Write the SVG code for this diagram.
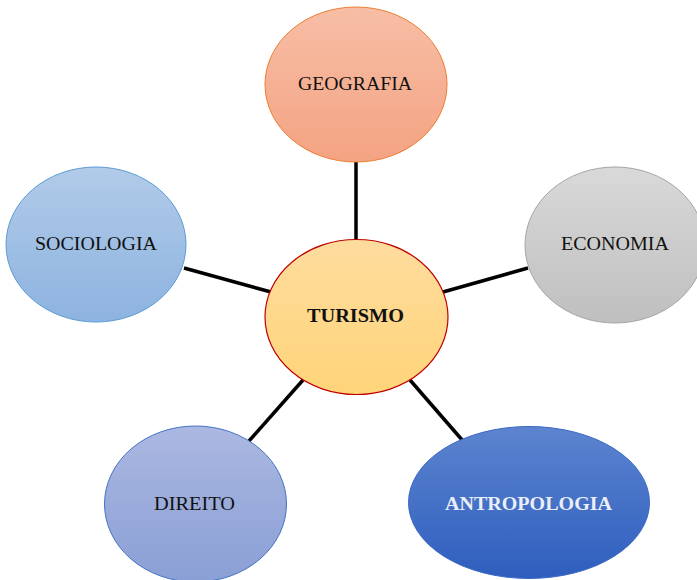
<svg xmlns="http://www.w3.org/2000/svg" width="697" height="580" viewBox="0 0 697 580">
<defs>
<linearGradient id="gGeo" x1="0" y1="0" x2="0" y2="1"><stop offset="0" stop-color="#f7bea6"/><stop offset="1" stop-color="#f4a382"/></linearGradient>
<linearGradient id="gSoc" x1="0" y1="0" x2="0" y2="1"><stop offset="0" stop-color="#b1cbe9"/><stop offset="1" stop-color="#8db3df"/></linearGradient>
<linearGradient id="gEco" x1="0" y1="0" x2="0" y2="1"><stop offset="0" stop-color="#d9d9d9"/><stop offset="1" stop-color="#bfbfbf"/></linearGradient>
<linearGradient id="gTur" x1="0" y1="0" x2="0" y2="1"><stop offset="0" stop-color="#fedc9e"/><stop offset="1" stop-color="#ffd479"/></linearGradient>
<linearGradient id="gDir" x1="0" y1="0" x2="0" y2="1"><stop offset="0" stop-color="#abb8e1"/><stop offset="1" stop-color="#8a9fd5"/></linearGradient>
<linearGradient id="gAnt" x1="0" y1="0" x2="0" y2="1"><stop offset="0" stop-color="#5c84cf"/><stop offset="1" stop-color="#2e5ebe"/></linearGradient>
</defs>
<style>
.lbl{font-family:"Liberation Serif","Times New Roman",serif;font-size:19px;fill:#111;text-anchor:middle}
.b{font-weight:bold}
.conn line{stroke:#000;stroke-width:3.5}
</style>
<g id="connectors" class="conn">
<line x1="356" y1="162" x2="356" y2="240"/>
<line x1="184" y1="268" x2="271" y2="292"/>
<line x1="443" y1="292" x2="528" y2="268"/>
<line x1="249" y1="441" x2="303" y2="380"/>
<line x1="410" y1="380" x2="463" y2="441"/>
</g>
<g id="geografia"><ellipse cx="356" cy="84.5" rx="91" ry="77.5" fill="url(#gGeo)" stroke="#ed7d31" stroke-width="1"/><text class="lbl" x="355" y="90" textLength="114" lengthAdjust="spacingAndGlyphs">GEOGRAFIA</text></g>
<g id="sociologia"><ellipse cx="96" cy="244.5" rx="90" ry="77.5" fill="url(#gSoc)" stroke="#5b9bd5" stroke-width="1"/><text class="lbl" x="96" y="250" textLength="122" lengthAdjust="spacingAndGlyphs">SOCIOLOGIA</text></g>
<g id="economia"><ellipse cx="615" cy="245" rx="90" ry="78" fill="url(#gEco)" stroke="#a5a5a5" stroke-width="1"/><text class="lbl" x="615" y="250" textLength="108" lengthAdjust="spacingAndGlyphs">ECONOMIA</text></g>
<g id="turismo"><ellipse cx="356.5" cy="317" rx="91.5" ry="77.5" fill="url(#gTur)" stroke="#c00000" stroke-width="1.2"/><text class="lbl b" x="355.5" y="322" textLength="97" lengthAdjust="spacingAndGlyphs">TURISMO</text></g>
<g id="direito"><ellipse cx="195.5" cy="504" rx="91" ry="78" fill="url(#gDir)" stroke="#4472c4" stroke-width="1"/><text class="lbl" x="194.5" y="510" textLength="81" lengthAdjust="spacingAndGlyphs">DIREITO</text></g>
<g id="antropologia"><ellipse cx="529" cy="502.5" rx="120.5" ry="76" fill="url(#gAnt)" stroke="#3a68c4" stroke-width="1"/><text class="lbl b" x="528.5" y="510" textLength="167" lengthAdjust="spacingAndGlyphs" style="fill:#e9eef8">ANTROPOLOGIA</text></g>
</svg>
